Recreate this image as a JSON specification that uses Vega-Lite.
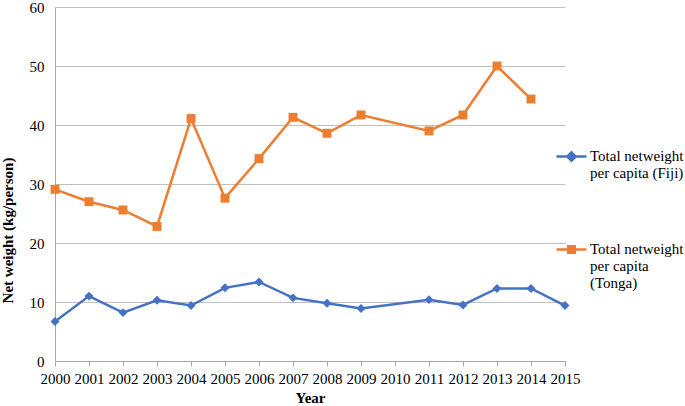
{
  "$schema": "https://vega.github.io/schema/vega-lite/v6.json",
  "width": 510,
  "height": 354,
  "autosize": {"type": "none"},
  "padding": {"left": 55, "top": 7, "right": 120, "bottom": 45},
  "background": "white",
  "data": {
    "values": [
      {"year": "2000", "series": "Fiji", "value": 6.7},
      {"year": "2001", "series": "Fiji", "value": 11.0},
      {"year": "2002", "series": "Fiji", "value": 8.2},
      {"year": "2003", "series": "Fiji", "value": 10.3},
      {"year": "2004", "series": "Fiji", "value": 9.4},
      {"year": "2005", "series": "Fiji", "value": 12.4},
      {"year": "2006", "series": "Fiji", "value": 13.4},
      {"year": "2007", "series": "Fiji", "value": 10.7},
      {"year": "2008", "series": "Fiji", "value": 9.8},
      {"year": "2009", "series": "Fiji", "value": 8.9},
      {"year": "2011", "series": "Fiji", "value": 10.4},
      {"year": "2012", "series": "Fiji", "value": 9.5},
      {"year": "2013", "series": "Fiji", "value": 12.3},
      {"year": "2014", "series": "Fiji", "value": 12.3},
      {"year": "2015", "series": "Fiji", "value": 9.4},
      {"year": "2000", "series": "Tonga", "value": 29.1},
      {"year": "2001", "series": "Tonga", "value": 27.0},
      {"year": "2002", "series": "Tonga", "value": 25.6},
      {"year": "2003", "series": "Tonga", "value": 22.8},
      {"year": "2004", "series": "Tonga", "value": 41.1},
      {"year": "2005", "series": "Tonga", "value": 27.6},
      {"year": "2006", "series": "Tonga", "value": 34.3},
      {"year": "2007", "series": "Tonga", "value": 41.3},
      {"year": "2008", "series": "Tonga", "value": 38.6},
      {"year": "2009", "series": "Tonga", "value": 41.7},
      {"year": "2011", "series": "Tonga", "value": 39.0},
      {"year": "2012", "series": "Tonga", "value": 41.7},
      {"year": "2013", "series": "Tonga", "value": 50.0},
      {"year": "2014", "series": "Tonga", "value": 44.4}
    ]
  },
  "encoding": {
    "x": {
      "field": "year",
      "type": "ordinal",
      "scale": {"type": "point", "padding": 0, "domain": ["2000","2001","2002","2003","2004","2005","2006","2007","2008","2009","2010","2011","2012","2013","2014","2015"]},
      "axis": {
        "title": "Year",
        "labelAngle": 0,
        "grid": false,
        "domainColor": "#a6a6a6",
        "tickColor": "#a6a6a6",
        "tickSize": 5,
        "labelPadding": 5,
        "titleBaseline": "middle",
        "titleY": 36
      }
    },
    "y": {
      "field": "value",
      "type": "quantitative",
      "scale": {"domain": [0, 60]},
      "axis": {
        "title": "Net weight (kg/person)",
        "values": [0, 10, 20, 30, 40, 50, 60],
        "grid": true,
        "gridColor": "#bfbfbf",
        "domainColor": "#a6a6a6",
        "ticks": false,
        "labelPadding": 11,
        "titleAngle": -90,
        "titleAlign": "center",
        "titleBaseline": "middle",
        "titleX": -48,
        "titleY": 223
      }
    },
    "color": {
      "field": "series",
      "type": "nominal",
      "scale": {"domain": ["Fiji", "Tonga"], "range": ["#4472C4", "#ED7D31"]},
      "legend": {
        "title": null,
        "orient": "none",
        "legendX": 500,
        "legendY": 133,
        "padding": 0,
        "direction": "vertical",
        "symbolSize": 900,
        "labelOffset": 2,
        "rowPadding": 52,
        "labelFont": "Liberation Serif, Times New Roman, serif",
        "labelFontSize": 15,
        "labelColor": "black",
        "labelBaseline": "top",
        "labelLimit": 200,
        "labelExpr": "datum.value === 'Fiji' ? ['Total netweight', 'per capita (Fiji)'] : ['Total netweight', 'per capita', '(Tonga)']",
        "encode": {
          "labels": {"update": {"dy": {"value": -8}}},
          "symbols": {
            "update": {
              "shape": {"signal": "datum.value === 'Fiji' ? 'M-1,0H1M0,-0.28L0.28,0L0,0.28L-0.28,0Z' : 'M-1,0H1M-0.22,-0.22H0.22V0.22H-0.22Z'"},
              "stroke": {"signal": "datum.value === 'Fiji' ? '#4472C4' : '#ED7D31'"},
              "fill": {"signal": "datum.value === 'Fiji' ? '#4472C4' : '#ED7D31'"},
              "strokeWidth": {"value": 2.5},
              "size": {"value": 900},
              "opacity": {"value": 1},
              "fillOpacity": {"value": 1}
            }
          }
        }
      }
    }
  },
  "layer": [
    {"mark": {"type": "line", "strokeWidth": 2.5}},
    {
      "transform": [{"filter": "datum.series === 'Fiji'"}],
      "mark": {"type": "point", "shape": "diamond", "filled": true, "opacity": 1, "size": 80}
    },
    {
      "transform": [{"filter": "datum.series === 'Tonga'"}],
      "mark": {"type": "point", "shape": "square", "filled": true, "opacity": 1, "size": 80}
    }
  ],
  "config": {
    "view": {"stroke": null},
    "font": "Liberation Serif, Times New Roman, serif",
    "axis": {
      "labelFont": "Liberation Serif, Times New Roman, serif",
      "labelFontSize": 15,
      "labelColor": "black",
      "titleFont": "Liberation Serif, Times New Roman, serif",
      "titleFontSize": 15,
      "titleFontWeight": "bold",
      "titleColor": "black"
    }
  }
}
